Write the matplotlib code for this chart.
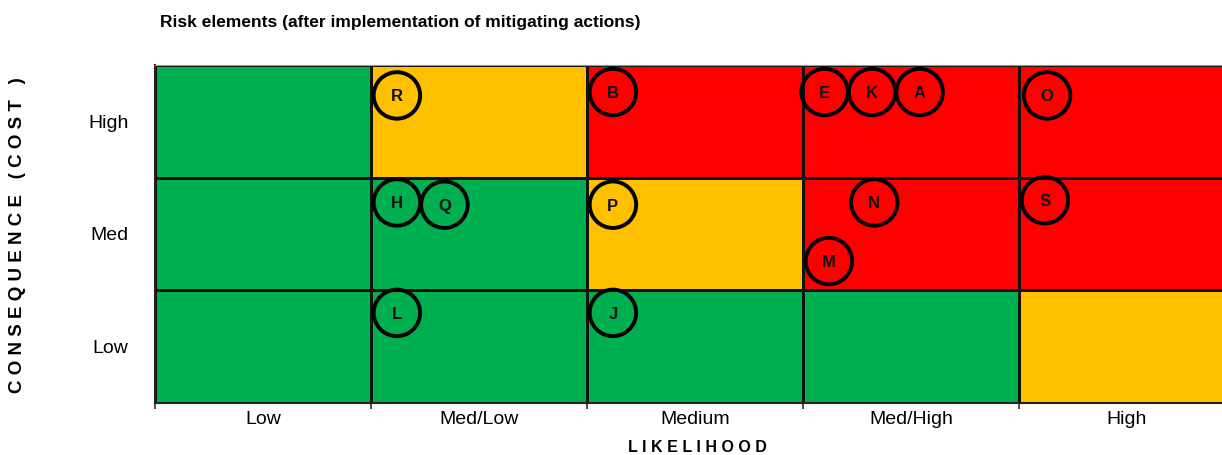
import matplotlib.pyplot as plt
from matplotlib.colors import ListedColormap
import numpy as np

plt.rcParams['font.family'] = ['Liberation Sans', 'DejaVu Sans']

# axes categories
likelihood = ["Low", "Med/Low", "Medium", "Med/High", "High"]
consequence = ["Low", "Med", "High"]

# risk level of each cell: 0 = green, 1 = amber, 2 = red (rows Low -> High)
levels = [
    [0, 0, 0, 0, 1],
    [0, 0, 1, 2, 2],
    [0, 1, 2, 2, 2],
]

# risk elements and where they sit in the matrix
risk_ids = ["R", "B", "E", "K", "A", "O", "H", "Q", "P", "N", "M", "S", "L", "J"]
risk_x = [1.12, 2.12, 3.10, 3.32, 3.54, 4.13, 1.12, 1.34, 2.12, 3.33, 3.12, 4.12, 1.12, 2.12]
risk_y = [2.73, 2.76, 2.76, 2.76, 2.76, 2.73, 1.78, 1.76, 1.76, 1.78, 1.26, 1.80, 0.80, 0.80]

cmap = ListedColormap(["#00B050", "#FFC000", "#FF0000"])

fig = plt.figure(figsize=(12.22, 4.55), dpi=100)
ax = fig.add_axes([155/1222, 52/455, 1080/1222, 338/455])

ax.pcolormesh(np.arange(len(likelihood) + 1), np.arange(len(consequence) + 1),
              np.array(levels), cmap=cmap, vmin=0, vmax=2,
              edgecolors="#111111", linewidth=0.8)

ax.scatter(risk_x, risk_y, s=1120, facecolors="none", edgecolors="black",
           linewidths=2.8, zorder=3, clip_on=False)
for lab, x, y in zip(risk_ids, risk_x, risk_y):
    ax.text(x, y, lab, ha="center", va="center_baseline", fontsize=12,
            fontweight="bold", color="#111111", zorder=4)

ax.set_xlim(0, len(likelihood))
ax.set_ylim(0, len(consequence))

ax.set_xticks(np.arange(len(likelihood)) + 0.5)
ax.set_xticklabels(likelihood, fontsize=14)
ax.set_yticks(np.arange(len(consequence)) + 0.5)
ax.set_yticklabels(consequence, fontsize=14)
ax.tick_params(axis="both", length=0)
ax.tick_params(axis="x", pad=6)
ax.tick_params(axis="y", pad=19)
ax.set_xticks(np.arange(len(likelihood) + 1), minor=True)
ax.tick_params(axis="x", which="minor", length=4, width=1.2, color="#333333")

for side in ["left", "bottom"]:
    ax.spines[side].set_color("#222222")
    ax.spines[side].set_linewidth(1.5)
ax.spines["top"].set_color("#999999")
ax.spines["right"].set_visible(False)

fig.text(160/1222, 1 - 22/455, "Risk elements (after implementation of mitigating actions)",
         ha="left", va="center", fontsize=12.5, fontweight="bold")
fig.text(18/1222, 1 - 235/455, "C O N S E Q U E N C E   ( C O S T   )",
         rotation=90, ha="center", va="center", fontsize=13.5, fontweight="bold")
fig.text(697/1222, 1 - 447/455, "L I K E L I H O O D",
         ha="center", va="center", fontsize=11.5, fontweight="bold")

fig.savefig("out.png", dpi=100)
